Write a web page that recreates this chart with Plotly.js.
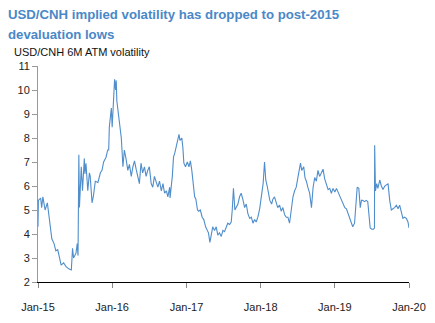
<!DOCTYPE html>
<html>
<head>
<meta charset="utf-8">
<script src="https://cdn.plot.ly/plotly-3.0.1.min.js"></script>
<style>
html,body{margin:0;padding:0;background:#fff;}
#chart{width:435px;height:323px;}
</style>
</head>
<body>
<div id="chart"></div>
<script>
var dates = [
"2015-01-01","2015-01-03","2015-01-14","2015-01-19","2015-01-25","2015-02-05","2015-02-16","2015-02-24","2015-03-02","2015-03-10",
"2015-03-21","2015-03-30","2015-04-08","2015-04-15","2015-04-25","2015-05-07","2015-05-18","2015-06-01","2015-06-14","2015-06-20",
"2015-06-25","2015-07-07","2015-07-13","2015-07-17","2015-07-21","2015-07-24","2015-08-02","2015-08-08","2015-08-17","2015-08-20",
"2015-08-25","2015-09-03","2015-09-11","2015-09-15","2015-09-24","2015-10-01","2015-10-10","2015-10-23","2015-11-04","2015-11-12",
"2015-11-20","2015-12-02","2015-12-10","2015-12-15","2015-12-18","2015-12-23","2015-12-28","2016-01-01","2016-01-08","2016-01-13",
"2016-01-18","2016-01-21","2016-01-24","2016-01-29","2016-02-07","2016-02-15","2016-02-23","2016-03-01","2016-03-10","2016-03-18",
"2016-03-26","2016-04-04","2016-04-12","2016-04-20","2016-04-28","2016-05-06","2016-05-14","2016-05-22","2016-05-30","2016-06-08",
"2016-06-16","2016-06-24","2016-07-02","2016-07-11","2016-07-19","2016-07-27","2016-08-05","2016-08-13","2016-08-21","2016-08-30",
"2016-09-07","2016-09-15","2016-09-24","2016-10-01","2016-10-10","2016-10-12","2016-10-23","2016-10-29","2016-11-05","2016-11-15",
"2016-11-18","2016-11-25","2016-11-30","2016-12-09","2016-12-14","2016-12-19","2016-12-27","2017-01-05","2017-01-13","2017-01-20",
"2017-01-27","2017-02-03","2017-02-10","2017-02-16","2017-02-24","2017-03-02","2017-03-10","2017-03-19","2017-03-27","2017-04-05",
"2017-04-13","2017-04-19","2017-04-26","2017-05-04","2017-05-10","2017-05-19","2017-05-27","2017-06-04","2017-06-12","2017-06-21",
"2017-06-29","2017-07-07","2017-07-15","2017-07-23","2017-08-01","2017-08-09","2017-08-14","2017-08-20","2017-08-27","2017-09-03",
"2017-09-11","2017-09-19","2017-09-27","2017-10-05","2017-10-14","2017-10-22","2017-10-30","2017-11-08","2017-11-16","2017-11-24",
"2017-12-02","2017-12-10","2017-12-18","2017-12-27","2018-01-05","2018-01-13","2018-01-20","2018-01-26","2018-02-02","2018-02-09",
"2018-02-15","2018-02-24","2018-03-02","2018-03-10","2018-03-19","2018-03-26","2018-04-04","2018-04-12","2018-04-20","2018-04-29",
"2018-05-07","2018-05-15","2018-05-23","2018-06-01","2018-06-09","2018-06-17","2018-06-25","2018-07-03","2018-07-11","2018-07-16",
"2018-07-22","2018-08-01","2018-08-07","2018-08-14","2018-08-21","2018-08-30","2018-09-08","2018-09-16","2018-09-24","2018-10-02",
"2018-10-10","2018-10-18","2018-10-27","2018-11-04","2018-11-12","2018-11-21","2018-11-29","2018-12-07","2018-12-15","2018-12-23",
"2019-01-01","2019-01-09","2019-01-17","2019-01-25","2019-02-03","2019-02-11","2019-02-19","2019-02-27","2019-03-05","2019-03-14",
"2019-03-22","2019-03-30","2019-04-08","2019-04-16","2019-04-21","2019-04-29","2019-05-06","2019-05-12","2019-05-18","2019-05-27",
"2019-06-04","2019-06-12","2019-06-17","2019-06-24","2019-07-02","2019-07-10","2019-07-15","2019-07-16","2019-07-20","2019-07-26",
"2019-08-01","2019-08-10","2019-08-18","2019-08-26","2019-09-04","2019-09-12","2019-09-20","2019-09-28","2019-10-06","2019-10-14",
"2019-10-22","2019-10-31","2019-11-08","2019-11-16","2019-11-24","2019-12-02","2019-12-10","2019-12-19","2019-12-27","2020-01-01"
];
var vols = [
4.3,5.4,5.5,5.1,5.55,5.0,5.3,4.7,4.3,3.8,
3.6,3.3,3.35,3.1,2.7,2.8,2.65,2.55,2.5,3.4,
3.0,3.2,3.6,3.1,7.3,5.1,6.8,5.8,7.15,6.5,
6.95,5.8,6.55,6.4,5.3,5.6,6.2,6.15,6.55,6.65,
7.0,7.2,7.5,7.5,8.45,8.85,9.25,8.45,10.0,10.45,
10.0,10.4,9.55,9.15,8.7,8.0,6.8,7.5,7.1,6.65,
6.9,6.4,6.8,7.05,6.7,6.4,6.1,6.95,6.55,6.8,
6.4,6.65,6.8,6.1,5.95,6.4,6.1,5.95,6.2,5.8,
6.1,5.7,5.8,5.55,5.95,5.5,6.4,7.2,7.4,7.75,
7.9,8.15,7.9,8.0,7.6,6.95,6.8,7.0,6.8,7.05,
6.65,5.95,5.55,5.45,5.0,4.95,5.0,4.7,4.6,4.3,
4.15,4.05,3.65,4.05,4.3,4.15,4.3,3.95,4.05,3.9,
4.15,4.1,4.25,4.45,4.4,4.5,5.0,5.9,5.0,5.1,
5.25,5.55,5.7,5.45,5.1,5.25,4.85,4.65,4.7,4.45,
4.6,4.5,4.7,5.05,5.55,6.1,7.0,6.25,6.0,5.55,
5.4,5.25,5.45,5.55,5.25,5.1,5.2,4.95,5.1,4.8,
4.7,4.7,4.45,5.1,5.55,5.8,5.95,6.35,6.65,6.95,
6.65,6.8,6.35,6.2,5.95,5.7,5.1,5.95,6.35,6.2,
6.65,6.4,6.55,6.7,6.3,6.1,5.85,5.9,5.7,5.9,
5.75,5.9,5.75,5.6,5.4,5.3,5.1,5.05,4.9,4.7,
4.55,4.3,4.45,5.3,5.95,5.9,5.1,5.4,5.4,5.35,
5.4,5.35,4.7,4.25,4.2,4.2,4.25,7.7,5.8,6.1,
5.9,6.25,6.0,5.85,6.0,6.05,6.1,5.4,5.0,5.05,
5.1,5.2,5.05,5.2,4.85,4.65,4.7,4.65,4.5,4.25
];
var xTickVals = ["2015-01-01","2016-01-01","2017-01-01","2018-01-01","2019-01-01","2020-01-01"];
var xTickText = ["Jan-15","Jan-16","Jan-17","Jan-18","Jan-19","Jan-20"];
var yTickVals = [2,3,4,5,6,7,8,9,10,11];

var titleLine1 = "USD/CNH implied volatility has dropped to post-2015";
var titleLine2 = "devaluation lows";
var subtitleText = "USD/CNH 6M ATM volatility";

var trace = {
  x: dates, y: vols, type: "scatter", mode: "lines",
  line: {color: "#4f8dcb", width: 1.1},
  hoverinfo: "skip"
};

var plotH = 323 - 66 - 41;
var plotW = 435 - 38 - 26;
function py(p) { return (282 - p) / plotH; }
function px(p) { return (p - 38) / plotW; }
var titleFont = {size: 13.2, color: "#4a88c7", weight: "bold"};

var layout = {
  width: 435, height: 323,
  margin: {l: 38, r: 26, t: 66, b: 41, pad: 0},
  paper_bgcolor: "#ffffff", plot_bgcolor: "#ffffff",
  font: {family: "Liberation Sans, Arial, sans-serif", size: 11, color: "#222222"},
  showlegend: false,
  xaxis: {
    type: "date",
    range: ["2015-01-01", "2020-01-01"],
    tickvals: xTickVals, ticktext: xTickText,
    showgrid: false, zeroline: false,
    showline: true, linecolor: "#000000", linewidth: 1,
    ticks: "outside", ticklen: 5, tickcolor: "#888888", tickwidth: 1,
    ticklabelstandoff: 10,
    tickfont: {size: 11, color: "#222222"}
  },
  yaxis: {
    range: [2, 11],
    tickvals: yTickVals,
    showgrid: false, zeroline: false,
    showline: true, linecolor: "#999999", linewidth: 1,
    ticks: "outside", ticklen: 5, tickcolor: "#999999", tickwidth: 1,
    tickfont: {size: 11, color: "#222222"}
  },
  annotations: [
    {
      text: "<b>" + titleLine1 + "</b>", showarrow: false,
      xref: "paper", x: px(6), xanchor: "left",
      yref: "paper", y: py(15), yanchor: "middle",
      font: titleFont
    },
    {
      text: "<b>" + titleLine2 + "</b>", showarrow: false,
      xref: "paper", x: px(6), xanchor: "left",
      yref: "paper", y: py(34), yanchor: "middle",
      font: titleFont
    },
    {
      text: subtitleText, showarrow: false,
      xref: "paper", x: px(12), xanchor: "left",
      yref: "paper", y: py(52), yanchor: "middle",
      font: {size: 11, color: "#111111"}
    }
  ]
};

Plotly.newPlot("chart", [trace], layout, {displayModeBar: false, staticPlot: true});
</script>
</body>
</html>
